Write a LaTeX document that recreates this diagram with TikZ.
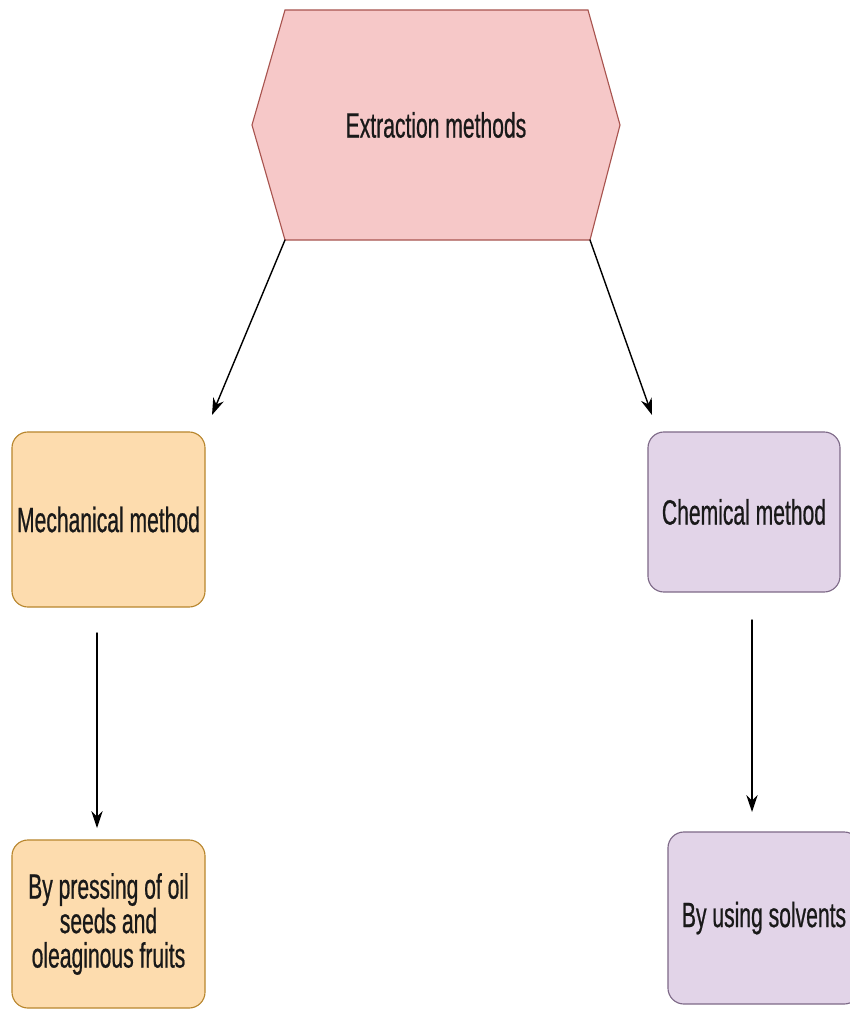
\documentclass[tikz,border=0pt]{standalone}
\usepackage{fontspec}
\setmainfont{Liberation Sans}[FakeStretch=0.6,FakeBold=0.6]
\usepackage{xcolor}
\usepackage{tikz}
\usetikzlibrary{arrows.meta,positioning}
\definecolor{pinkfill}{HTML}{F6C8C8}
\definecolor{pinkline}{HTML}{A8544F}
\definecolor{orangefill}{HTML}{FDDCAE}
\definecolor{orangeline}{HTML}{B8862E}
\definecolor{lilacfill}{HTML}{E2D4E8}
\definecolor{lilacline}{HTML}{7E6A88}

\begin{document}
\begin{tikzpicture}[x=0.025cm,y=-0.025cm,line cap=round,
  box/.style={rectangle,rounded corners=0.4cm,line width=0.8pt,align=center,
    font=\fontsize{25}{24.5}\selectfont,text=black!90},
  mechbox/.style={box,draw=orangeline,fill=orangefill},
  chembox/.style={box,draw=lilacline,fill=lilacfill},
  arr/.style={-{Stealth[length=12pt,width=8pt]},line width=1pt}]
  \useasboundingbox (0,0) rectangle (849,1012);
  % top hexagon
  \coordinate (tl) at (285,10);
  \coordinate (tr) at (588,10);
  \coordinate (re) at (620,125);
  \coordinate (br) at (590,240);
  \coordinate (bl) at (285,240);
  \coordinate (le) at (252,125);
  \draw[fill=pinkfill,draw=pinkline,line width=0.8pt] (tl) -- (tr) -- (re) -- (br) -- (bl) -- (le) -- cycle;
  \node[font=\fontsize{25}{24.5}\selectfont,text=black!90] (top) at (436,125) {Extraction methods};
  % method boxes
  \node[mechbox,minimum width=4.825cm,minimum height=4.375cm] (mech) at (108.5,519.5) {Mechanical method};
  \node[chembox,minimum width=4.8cm,minimum height=4.0cm] (chem) at (744,512) {Chemical method};
  \node[mechbox,minimum width=4.825cm,minimum height=4.2cm] (press) at (108.5,924) {By pressing of oil\\seeds and\\oleaginous fruits};
  \node[chembox,minimum width=4.8cm,minimum height=4.3cm] (solv) at (764,918) {By using solvents};
  % arrows
  \coordinate (mechIn) at (212,415);
  \coordinate (chemIn) at (652,415);
  \coordinate (mechOut) at (97,633);
  \coordinate (pressIn) at (97,828);
  \coordinate (chemOut) at (752,620);
  \coordinate (solvIn) at (752,812);
  \draw[arr] (bl) -- (mechIn);
  \draw[arr] (br) -- (chemIn);
  \draw[arr] (mechOut) -- (pressIn);
  \draw[arr] (chemOut) -- (solvIn);
\end{tikzpicture}
\end{document}
